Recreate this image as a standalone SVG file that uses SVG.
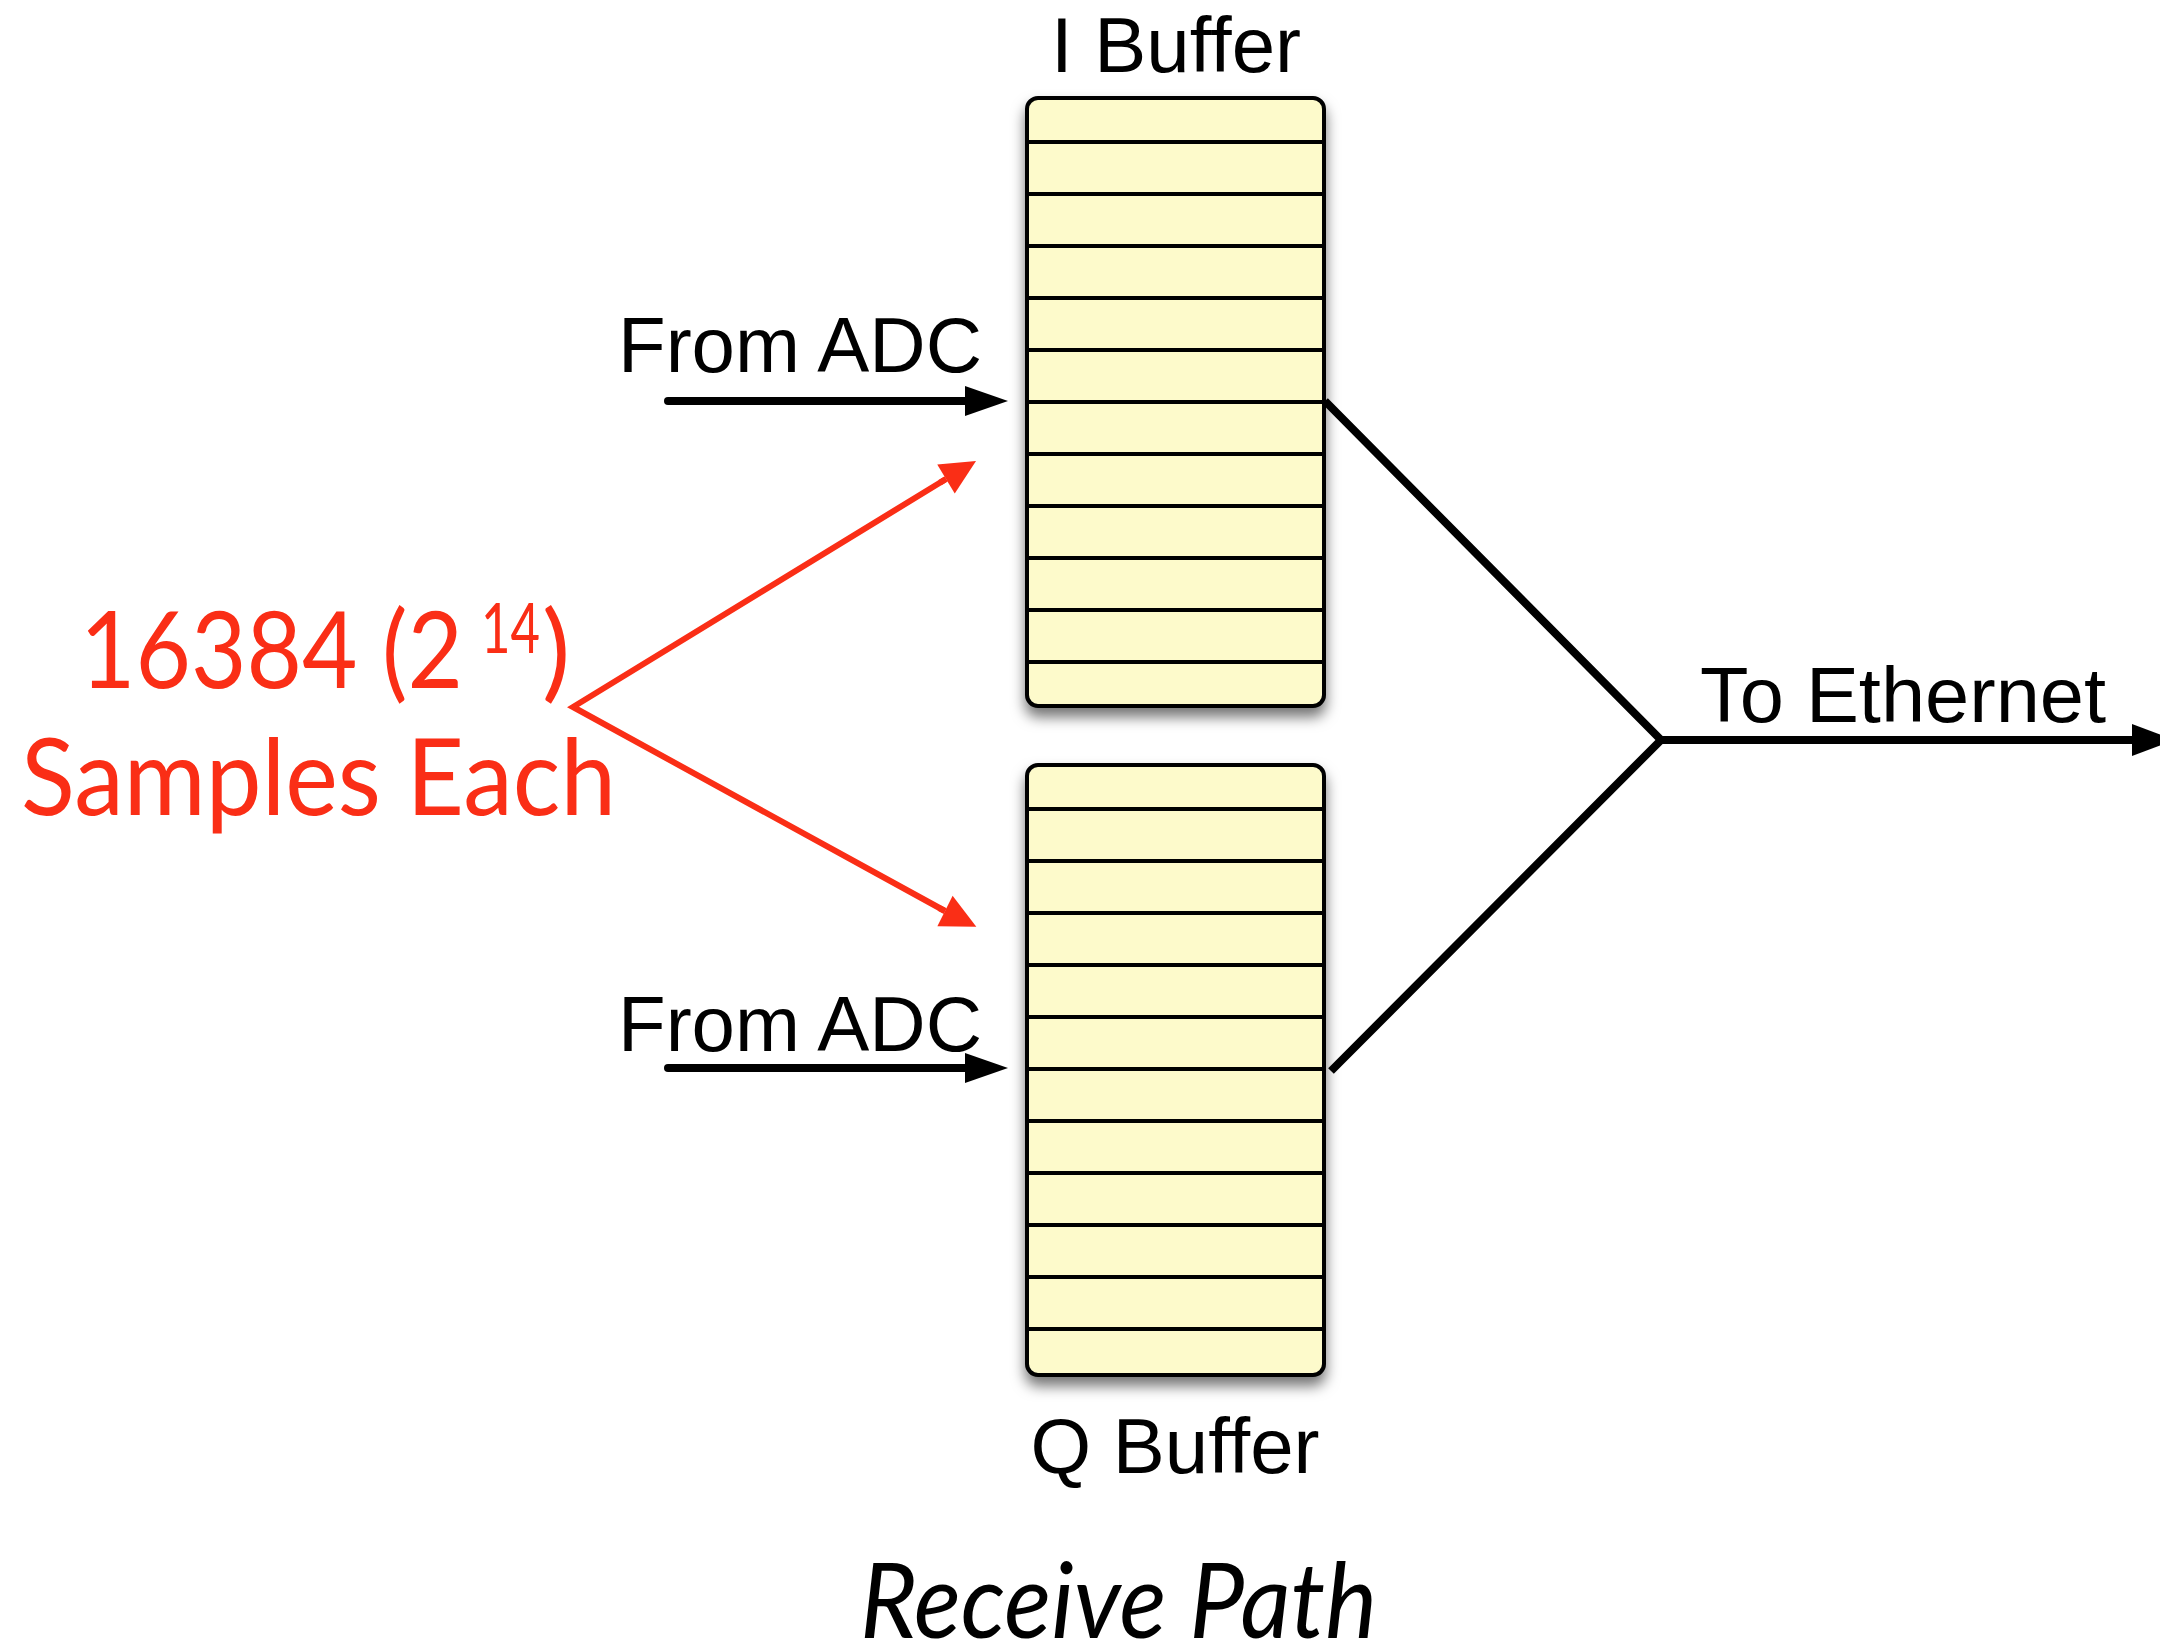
<svg xmlns="http://www.w3.org/2000/svg" width="2160" height="1644" viewBox="0 0 2160 1644">
<defs>
<style>
.lbl{font-family:"Liberation Sans",Arial,sans-serif;font-size:78px;fill:#000}
.red{font-family:Lato,"Open Sans",sans-serif;fill:#fa2e16}
.box{fill:#fdfacb;stroke:#000;stroke-width:4}
.row{stroke:#000;stroke-width:4}
.blk{fill:none;stroke:#000;stroke-width:8}
.rl{fill:none;stroke:#fa2e16;stroke-width:6}
</style>
<filter id="sh" x="-20%" y="-10%" width="140%" height="130%">
<feDropShadow dx="0" dy="9" stdDeviation="7" flood-color="#000" flood-opacity="0.55"/>
</filter>
<marker id="ab" markerUnits="userSpaceOnUse" markerWidth="44" markerHeight="32" refX="0" refY="15" orient="auto" overflow="visible">
<path d="M0,0 L43,15 L0,30 z" fill="#000"/>
</marker>
<marker id="ae" markerUnits="userSpaceOnUse" markerWidth="44" markerHeight="34" refX="0" refY="16" orient="auto" overflow="visible">
<path d="M0,0 L43,16 L0,32 z" fill="#000"/>
</marker>
<marker id="ar" markerUnits="userSpaceOnUse" markerWidth="36" markerHeight="34" refX="0" refY="17" orient="auto" overflow="visible">
<path d="M0,0 L35,17 L0,34 z" fill="#fa2e16"/>
</marker>
</defs>
<rect width="2160" height="1644" fill="#fff"/>

<g id="i-buffer">
<rect class="box" x="1027" y="98" width="297" height="608" rx="11" filter="url(#sh)"/>
<g class="row">
<line x1="1027" y1="142" x2="1324" y2="142"/>
<line x1="1027" y1="194" x2="1324" y2="194"/>
<line x1="1027" y1="246" x2="1324" y2="246"/>
<line x1="1027" y1="298" x2="1324" y2="298"/>
<line x1="1027" y1="350" x2="1324" y2="350"/>
<line x1="1027" y1="402" x2="1324" y2="402"/>
<line x1="1027" y1="454" x2="1324" y2="454"/>
<line x1="1027" y1="506" x2="1324" y2="506"/>
<line x1="1027" y1="558" x2="1324" y2="558"/>
<line x1="1027" y1="610" x2="1324" y2="610"/>
<line x1="1027" y1="662" x2="1324" y2="662"/>
</g>
<text class="lbl" x="1176" y="72" text-anchor="middle">I Buffer</text>
</g>

<g id="q-buffer">
<rect class="box" x="1027" y="765" width="297" height="610" rx="11" filter="url(#sh)"/>
<g class="row">
<line x1="1027" y1="809" x2="1324" y2="809"/>
<line x1="1027" y1="861" x2="1324" y2="861"/>
<line x1="1027" y1="913" x2="1324" y2="913"/>
<line x1="1027" y1="965" x2="1324" y2="965"/>
<line x1="1027" y1="1017" x2="1324" y2="1017"/>
<line x1="1027" y1="1069" x2="1324" y2="1069"/>
<line x1="1027" y1="1121" x2="1324" y2="1121"/>
<line x1="1027" y1="1173" x2="1324" y2="1173"/>
<line x1="1027" y1="1225" x2="1324" y2="1225"/>
<line x1="1027" y1="1277" x2="1324" y2="1277"/>
<line x1="1027" y1="1329" x2="1324" y2="1329"/>
</g>
<text class="lbl" x="1175" y="1473" text-anchor="middle">Q Buffer</text>
</g>

<g id="labels">
<text class="lbl" x="618" y="372" textLength="364" lengthAdjust="spacingAndGlyphs">From ADC</text>
<text class="lbl" x="618" y="1051" textLength="364" lengthAdjust="spacingAndGlyphs">From ADC</text>
<text class="lbl" x="1700" y="722" textLength="406" lengthAdjust="spacingAndGlyphs">To Ethernet</text>
<text class="red" font-size="106" x="80" y="688" textLength="383" lengthAdjust="spacingAndGlyphs">16384 (2</text>
<text class="red" font-size="70" x="481" y="653" textLength="59" lengthAdjust="spacingAndGlyphs">14</text>
<text class="red" font-size="106" x="542" y="688">)</text>
<text class="red" font-size="106" x="21" y="815" textLength="595" lengthAdjust="spacingAndGlyphs">Samples Each</text>
<text x="860" y="1638" font-family="Lato,'Open Sans',sans-serif" font-style="italic" font-size="104" fill="#000" textLength="517" lengthAdjust="spacingAndGlyphs">Receive Path</text>
</g>

<g id="connectors">
<line class="blk" x1="668" y1="401" x2="965" y2="401" stroke-linecap="round" marker-end="url(#ab)"/>
<line class="blk" x1="668" y1="1068" x2="965" y2="1068" stroke-linecap="round" marker-end="url(#ab)"/>
<polyline class="blk" points="1325,401 1661,740 1331,1071" stroke-width="7" stroke-linejoin="miter"/>
<line class="blk" x1="1660" y1="740" x2="2132" y2="740" stroke-width="9" marker-end="url(#ae)"/>
<polyline class="rl" points="946,479 573,707 945,911"/>
<line class="rl" x1="940" y1="482.6" x2="946" y2="479" marker-end="url(#ar)"/>
<line class="rl" x1="939" y1="908" x2="945" y2="911" marker-end="url(#ar)"/>
</g>
</svg>
